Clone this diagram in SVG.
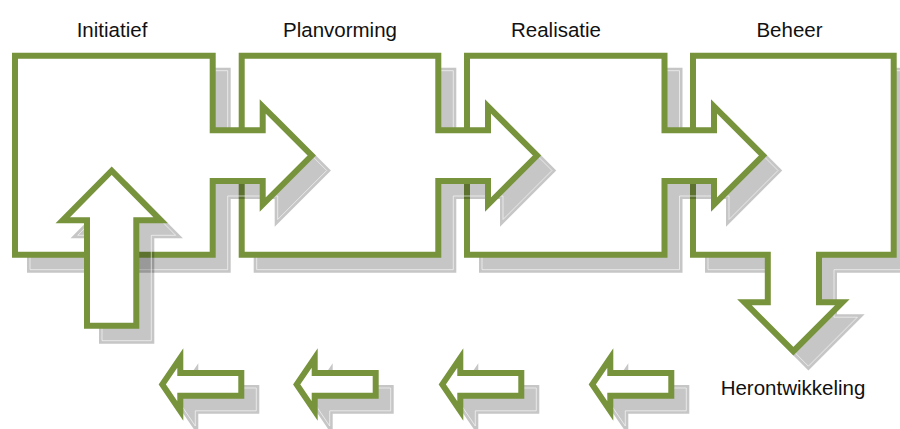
<svg xmlns="http://www.w3.org/2000/svg" width="900" height="429" viewBox="0 0 900 429">
<style>
.shape{fill:#fff;stroke:#77933C;stroke-width:6;stroke-linejoin:miter}
.sh{fill:#000;stroke:#000;stroke-width:6;stroke-linejoin:miter}
.shg{opacity:.22}
.hl{fill:none;stroke:#fff;stroke-opacity:.6;stroke-width:1}
.lbl{font-family:"Liberation Sans",Arial,sans-serif;font-size:20.5px;fill:#111;text-anchor:middle}
</style>
<defs>
<path id="p1" d="M15,55.7H212.7V130.3H262.7V106.5L311.7,155.5L262.7,204.5V181H212.7V254.7H15Z"/>
<path id="p2" d="M241.7,55.7H438.3V130.3H488V106.5L537,155.5L488,204.5V181H438.3V254.7H241.7Z"/>
<path id="p3" d="M467,55.7H664.5V130.3H714V106.5L763,155.5L714,204.5V181H664.5V254.7H467Z"/>
<path id="p4" d="M693,55.7H893.7V254.7H819V302.2H842.4L793.4,351.2L744.4,302.2H767.8V254.7H693Z"/>
<path id="pu" d="M87,325.7V220.3H62.7L111.7,170.7L160.7,220.3H136.3V325.7Z"/>
<path id="pl" d="M0,384.4L18,358V373H79V395.8H18V411Z"/>
</defs>

<g id="beheer">
<g transform="translate(15,15)"><g class="shg"><use href="#p4" class="sh"/></g><use href="#p4" class="hl"/></g>
<use href="#p4" class="shape"/>
<text class="lbl" x="789.5" y="36.7">Beheer</text>
<text class="lbl" x="793" y="394.7">Herontwikkeling</text>
</g>

<g id="realisatie">
<g transform="translate(15,15)"><g class="shg"><use href="#p3" class="sh"/></g><use href="#p3" class="hl"/></g>
<use href="#p3" class="shape"/>
<text class="lbl" x="556" y="36.7">Realisatie</text>
</g>

<g id="planvorming">
<g transform="translate(15,15)"><g class="shg"><use href="#p2" class="sh"/></g><use href="#p2" class="hl"/></g>
<use href="#p2" class="shape"/>
<text class="lbl" x="340" y="36.7">Planvorming</text>
</g>

<g id="initiatief">
<g transform="translate(15,15)"><g class="shg"><use href="#p1" class="sh"/></g><use href="#p1" class="hl"/></g>
<use href="#p1" class="shape"/>
<text class="lbl" x="112" y="36.7">Initiatief</text>
</g>

<g id="connectors">
<g id="up-arrow">
<g transform="translate(15,15)"><g class="shg"><use href="#pu" class="sh"/></g><use href="#pu" class="hl"/></g>
<use href="#pu" class="shape"/>
</g>
<g id="back-arrow-1">
<g transform="translate(177.3,15)"><g class="shg"><use href="#pl" class="sh"/></g><use href="#pl" class="hl"/></g>
<use href="#pl" class="shape" transform="translate(162.3,0)"/>
</g>
<g id="back-arrow-2">
<g transform="translate(311.7,15)"><g class="shg"><use href="#pl" class="sh"/></g><use href="#pl" class="hl"/></g>
<use href="#pl" class="shape" transform="translate(296.7,0)"/>
</g>
<g id="back-arrow-3">
<g transform="translate(457.3,15)"><g class="shg"><use href="#pl" class="sh"/></g><use href="#pl" class="hl"/></g>
<use href="#pl" class="shape" transform="translate(442.3,0)"/>
</g>
<g id="back-arrow-4">
<g transform="translate(607.3,15)"><g class="shg"><use href="#pl" class="sh"/></g><use href="#pl" class="hl"/></g>
<use href="#pl" class="shape" transform="translate(592.3,0)"/>
</g>
</g>
</svg>
